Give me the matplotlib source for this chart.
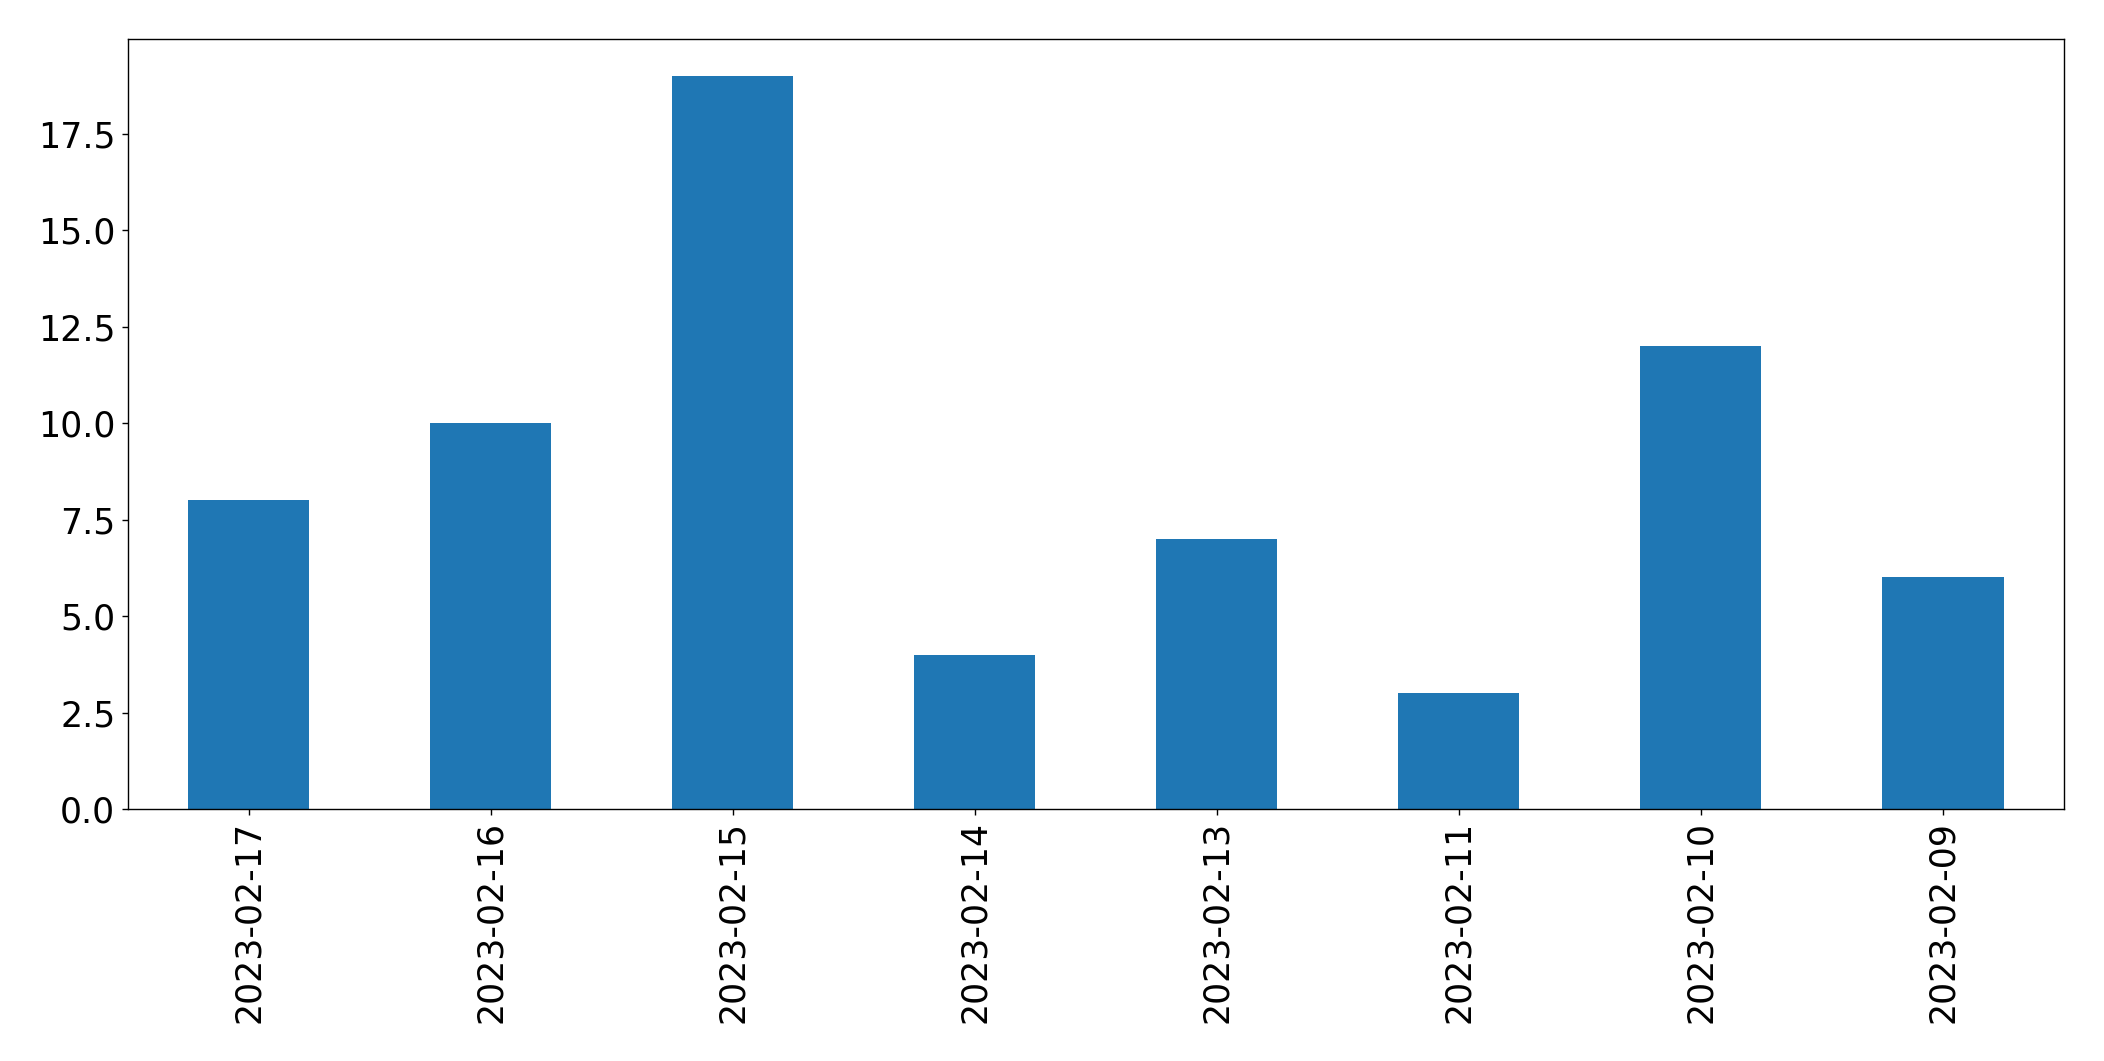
import pandas as pd
import matplotlib
matplotlib.use("Agg")
import matplotlib.pyplot as plt

dates = ["2023-02-17", "2023-02-16", "2023-02-15", "2023-02-14",
         "2023-02-13", "2023-02-11", "2023-02-10", "2023-02-09"]
counts = [8, 10, 19, 4, 7, 3, 12, 6]

s = pd.Series(counts, index=dates)

fig = plt.figure(figsize=(2104 / 125, 1061 / 125), dpi=125)
ax = fig.add_axes([0.0606, 0.2375, 0.9204, 0.7258])
s.plot(kind="bar", ax=ax, fontsize=20)

fig.savefig("out.png", dpi=125)
